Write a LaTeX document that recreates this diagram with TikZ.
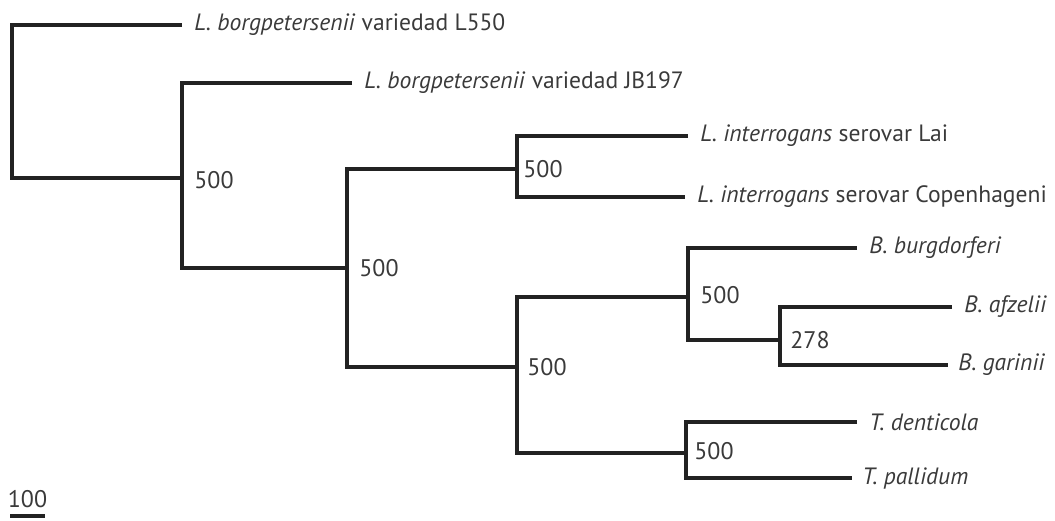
\documentclass[tikz,border=0pt]{standalone}
\usepackage{fontspec}
\setmainfont{PT Sans}
\usetikzlibrary{positioning,calc}
\definecolor{treeline}{HTML}{222222}
\definecolor{treetext}{HTML}{3A3A3A}

\begin{document}
\begin{tikzpicture}[
  x=0.5pt,y=-0.5pt,
  every node/.style={font=\fontsize{12}{14}\selectfont,text=treetext},
  br/.style={line width=1.7pt,treeline,line join=miter},
  tx/.style={anchor=west,inner sep=0pt,font=\fontsize{11.8}{14}\selectfont},
  bs/.style={anchor=west,inner sep=0pt}
]
\useasboundingbox (0,0) rectangle (1055,520);

% inner nodes
\coordinate (R) at (12,178);
\coordinate (A) at (182,178);
\coordinate (B) at (347,268);
\coordinate (C) at (517,169);
\coordinate (D) at (517,367);
\coordinate (E) at (688,297);
\coordinate (G) at (780,340);
\coordinate (F) at (686,453);

% leaf tips
\coordinate (t1) at (182,25);
\coordinate (t2) at (352,83);
\coordinate (t3) at (688,136);
\coordinate (t4) at (685,197);
\coordinate (t5) at (857,248);
\coordinate (t6) at (952,307);
\coordinate (t7) at (948,365);
\coordinate (t8) at (857,422);
\coordinate (t9) at (852,478);

\node[tx,right=6pt of t1](L1){\textit{L. borgpetersenii} variedad L550};
\node[tx,right=6pt of t2](L2){\textit{L. borgpetersenii} variedad JB197};
\node[tx,right=6pt of t3](L3){\textit{L. interrogans} serovar Lai};
\node[tx,right=6pt of t4](L4){\textit{L. interrogans} serovar Copenhageni};
\node[tx,right=6pt of t5](L5){\textit{B. burgdorferi}};
\node[tx,right=6pt of t6](L6){\textit{B. afzelii}};
\node[tx,right=5pt of t7](L7){\textit{B. garinii}};
\node[tx,right=6pt of t8](L8){\textit{T. denticola}};
\node[tx,right=5pt of t9](L9){\textit{T. pallidum}};

% branches
\draw[br](t1)-|(R)--(A);
\draw[br](t2)-|(A)|-(B);
\draw[br](C)-|(B)|-(D);
\draw[br](t3)-|(C)|-(t4);
\draw[br](E)-|(D)|-(F);
\draw[br](t5)-|(E)|-(G);
\draw[br](t6)-|(G)|-(t7);
\draw[br](t8)-|(F)|-(t9);

% bootstrap values
\node[bs,right=6pt of A,yshift=-1pt]{500};
\node[bs,right=6pt of B]{500};
\node[bs,right=3pt of C]{500};
\node[bs,right=5pt of D]{500};
\node[bs,right=6pt of E,yshift=1pt]{500};
\node[bs,right=5pt of G]{278};
\node[bs,right=4pt of F,yshift=1pt]{500};

% scale bar
\coordinate (s1) at (10,516);
\coordinate (s2) at (45,516);
\draw[br](s1)--(s2);
\node[above=4pt of $(s1)!0.5!(s2)$,inner sep=0pt](sl){100};
\end{tikzpicture}
\end{document}
